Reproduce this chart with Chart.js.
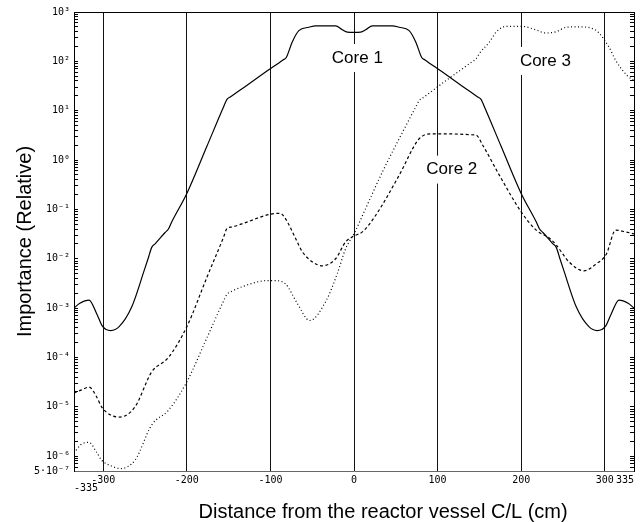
<!DOCTYPE html>
<html>
<head>
<meta charset="utf-8">
<title>Importance vs distance</title>
<script src="https://cdn.jsdelivr.net/npm/chart.js@4.4.0/dist/chart.umd.min.js"></script>
<style>
  body { margin: 0; background: #fff; }
</style>
</head>
<body>
<canvas id="importanceChart" width="644" height="522"></canvas>
<script>
// Distance from the vessel centre line (cm) and relative importance
const core1X = [-335, -328, -317, -308, -301, -291, -281, -266, -251, -246, -242, -238, -226, -222, -218, -200, -176, -156, -152, -148, -130, -105, -85, -81, -74, -66, -54, -46, -22, -14, -8, 0,
                8, 14, 22, 46, 54, 66, 74, 81, 85, 105, 130, 148, 152, 156, 176, 200, 218, 222, 226, 238, 242, 246, 251, 266, 281, 291, 301, 308, 317, 328, 335];
const core1Y = [1.0e-3, 1.25e-3, 1.45e-3, 7.8e-4, 4.3e-4, 3.5e-4, 4.2e-4, 1.05e-3, 5.8e-3, 1.05e-2, 1.7e-2, 2.0e-2, 3.4e-2, 4.0e-2, 5.6e-2, 0.21, 1.9, 12, 17, 19, 31, 62, 107, 120, 245, 420, 490, 525, 525, 435, 390, 385,
                390, 435, 525, 525, 490, 420, 245, 120, 107, 62, 31, 19, 17, 12, 1.9, 0.21, 5.6e-2, 4.0e-2, 3.4e-2, 2.0e-2, 1.7e-2, 1.05e-2, 5.8e-3, 1.05e-3, 4.2e-4, 3.5e-4, 4.3e-4, 7.8e-4, 1.45e-3, 1.25e-3, 1.0e-3];

const core2X = [-335, -326, -317, -308, -302, -291, -280, -262, -242, -222, -200, -176, -156, -152, -146, -134, -100, -88, -82, -70, -62, -50, -38, -22, -10, 0,
                10, 26, 54, 78, 94, 146, 154, 174, 200, 218, 234, 242, 257, 275, 290, 302, 313, 325, 335];
const core2Y = [1.9e-5, 2.2e-5, 2.5e-5, 1.6e-5, 1.0e-5, 6.8e-6, 6.2e-6, 1.0e-5, 5.1e-5, 1.0e-4, 4.2e-4, 4.2e-3, 2.75e-2, 4.1e-2, 4.4e-2, 5.1e-2, 8.0e-2, 8.3e-2, 6.5e-2, 2.6e-2, 1.4e-2, 8.7e-3, 7.2e-3, 1.0e-2, 2.2e-2, 2.9e-2,
                3.5e-2, 7.6e-2, 0.49, 2.7, 3.4, 3.2, 2.0, 0.49, 8.9e-2, 3.8e-2, 2.6e-2, 1.9e-2, 8.7e-3, 5.7e-3, 7.9e-3, 1.25e-2, 3.8e-2, 3.5e-2, 3.2e-2];

const core3X = [-335, -327, -317, -308, -302, -290, -280, -262, -242, -222, -200, -176, -156, -152, -146, -134, -104, -95, -82, -68, -53, -33, -20, -10, 0,
                14, 34, 54, 74, 78, 82, 112, 142, 146, 150, 162, 170, 182, 202, 215, 230, 242, 254, 270, 289, 305, 313, 327, 335];
const core3Y = [1.15e-6, 1.7e-6, 1.9e-6, 1.2e-6, 8.3e-7, 6.3e-7, 5.6e-7, 8.3e-7, 4.3e-6, 8.5e-6, 3.2e-5, 2.5e-4, 1.4e-3, 1.9e-3, 2.2e-3, 2.7e-3, 3.6e-3, 3.6e-3, 3.1e-3, 1.26e-3, 5.6e-4, 1.45e-3, 5.0e-3, 1.6e-2, 3.2e-2,
                0.105, 0.575, 2.7, 12, 16, 18, 43, 100, 112, 145, 245, 390, 510, 510, 450, 375, 400, 490, 500, 430, 195, 105, 51, 41];

// axis ticks
const xTickValues = [-335, -300, -200, -100, 0, 100, 200, 300, 335];
const xTickLabels = [['', '-335'], '-300', '-200', '-100', '0', '100', '200', '300', '335'];
const yTickValues = [5e-7, 1e-6, 1e-5, 1e-4, 1e-3, 1e-2, 1e-1, 1, 10, 100, 1000];
const yTickLabels = ['5·10⁻⁷', '10⁻⁶', '10⁻⁵', '10⁻⁴', '10⁻³', '10⁻²', '10⁻¹', '10⁰', '10¹', '10²', '10³'];

// curve captions, placed in data coordinates
const coreNames = ['Core 1', 'Core 2', 'Core 3'];
const coreLabelX = [4, 117, 229];
const coreLabelY = [117, 0.64, 102];

const tickFont = { family: 'DejaVu Sans Mono', size: 10, lineHeight: 0.8 };
const titleFamily = '"Liberation Sans", Arial, sans-serif';

function toPoints(xs, ys) {
    return xs.map((x, i) => ({ x: x, y: ys[i] }));
}

// decades plus the 2..9 minor marks between them
function logTicks() {
    const out = [];
    for (let e = -7; e < 3; e++) {
        for (let m = 1; m < 10; m++) {
            const v = m * Math.pow(10, e);
            if (v >= 4.9e-7) out.push(v);
        }
    }
    out.push(1000);
    return out.map(v => ({ value: v }));
}

function yLabel(value) {
    const i = yTickValues.findIndex(t => Math.abs(Math.log10(t) - Math.log10(value)) < 1e-6);
    return i >= 0 ? yTickLabels[i] : '';
}

const coreLabels = {
    id: 'coreLabels',
    beforeDatasetsDraw(chart) {
        const { ctx, scales: { x, y } } = chart;
        ctx.save();
        ctx.font = '17px ' + titleFamily;
        ctx.fillStyle = '#fff';
        coreNames.forEach((t, i) => {
            const w = ctx.measureText(t).width + 4;
            ctx.fillRect(x.getPixelForValue(coreLabelX[i]) - w / 2, y.getPixelForValue(coreLabelY[i]) - 14, w, 28);
        });
        ctx.restore();
    },
    afterDatasetsDraw(chart) {
        const { ctx, chartArea, scales: { x, y } } = chart;
        ctx.save();
        ctx.fillStyle = '#000';
        ctx.textAlign = 'center';
        ctx.textBaseline = 'middle';
        ctx.font = '17px ' + titleFamily;
        coreNames.forEach((t, i) => {
            ctx.fillText(t, x.getPixelForValue(coreLabelX[i]), y.getPixelForValue(coreLabelY[i]));
        });
        // x axis caption sits a little right of centre in the original
        ctx.font = '20px ' + titleFamily;
        ctx.fillText('Distance from the reactor vessel C/L (cm)',
            chartArea.left + (chartArea.right - chartArea.left) * 0.552, chart.height - 10);
        ctx.restore();
    }
};

const ctx = document.getElementById('importanceChart').getContext('2d');
new Chart(ctx, {
    type: 'line',
    data: {
        datasets: [
            {
                label: 'Core 1',
                data: toPoints(core1X, core1Y),
                borderColor: '#000',
                borderWidth: 1.2,
                pointRadius: 0,
                cubicInterpolationMode: 'monotone',
                fill: false
            },
            {
                label: 'Core 2',
                data: toPoints(core2X, core2Y),
                borderColor: '#000',
                borderWidth: 1.2,
                borderDash: [3, 2.5],
                pointRadius: 0,
                cubicInterpolationMode: 'monotone',
                fill: false
            },
            {
                label: 'Core 3',
                data: toPoints(core3X, core3Y),
                borderColor: '#000',
                borderWidth: 1.2,
                borderDash: [1, 2.5],
                pointRadius: 0,
                cubicInterpolationMode: 'monotone',
                fill: false
            }
        ]
    },
    options: {
        responsive: false,
        animation: false,
        devicePixelRatio: 1,
        layout: { padding: { top: 11, right: 10, left: 0, bottom: 0 } },
        plugins: {
            legend: { display: false },
            tooltip: { enabled: false }
        },
        scales: {
            x: {
                type: 'linear',
                position: 'bottom',
                min: -335,
                max: 335,
                afterBuildTicks: s => { s.ticks = xTickValues.map(v => ({ value: v })); },
                afterFit: s => { s.height = 51; },
                ticks: {
                    autoSkip: false,
                    maxRotation: 0,
                    align: 'inner',
                    padding: 5,
                    color: '#000',
                    font: tickFont,
                    callback: v => xTickLabels[xTickValues.indexOf(v)]
                },
                grid: {
                    drawTicks: false,
                    lineWidth: 1,
                    color: c => (c.tick && Math.abs(c.tick.value) === 335) ? 'rgba(0,0,0,0)' : '#111'
                },
                border: { display: true, color: '#666', width: 1 }
            },
            xTop: {
                type: 'linear',
                position: 'top',
                min: -335,
                max: 335,
                afterFit: s => { s.height = 0; },
                ticks: { display: false },
                grid: { drawOnChartArea: false, drawTicks: false },
                border: { display: true, color: '#000', width: 1, dash: [1, 1] }
            },
            y: {
                type: 'logarithmic',
                position: 'left',
                min: 5e-7,
                max: 1000,
                afterBuildTicks: s => { s.ticks = logTicks(); },
                afterFit: s => { s.width = 74; },
                ticks: {
                    autoSkip: false,
                    padding: 8,
                    color: '#000',
                    font: tickFont,
                    callback: v => yLabel(v)
                },
                grid: { drawOnChartArea: false, drawTicks: true, tickLength: -4, color: '#000' },
                border: { display: true, color: '#000', width: 1 },
                title: {
                    display: true,
                    text: 'Importance (Relative)',
                    color: '#000',
                    font: { family: titleFamily, size: 20, lineHeight: 1.2 },
                    padding: { top: 13, bottom: 0 }
                }
            },
            yRight: {
                type: 'logarithmic',
                position: 'right',
                min: 5e-7,
                max: 1000,
                afterBuildTicks: s => { s.ticks = logTicks(); },
                afterFit: s => { s.width = 0; },
                ticks: { display: false },
                grid: { drawOnChartArea: false, drawTicks: true, tickLength: -4, color: '#000' },
                border: { display: true, color: '#000', width: 1 }
            }
        }
    },
    plugins: [coreLabels]
});
</script>
</body>
</html>
